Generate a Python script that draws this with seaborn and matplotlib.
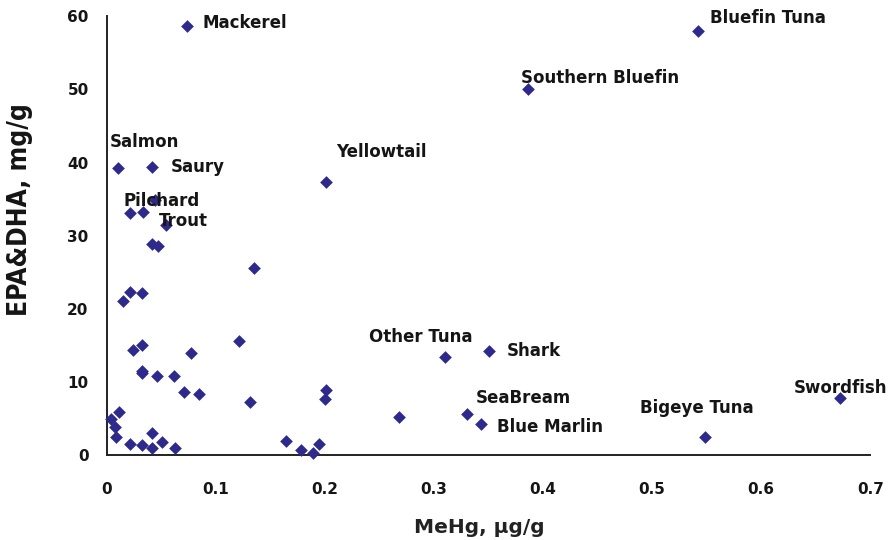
import matplotlib
matplotlib.use("Agg")
import matplotlib.pyplot as plt
import seaborn as sns
import pandas as pd

# Data: MeHg (ug/g) vs EPA&DHA (mg/g)
mehg = [0.074, 0.542, 0.386, 0.201, 0.010, 0.042, 0.021, 0.033, 0.044, 0.054,
        0.042, 0.047, 0.135, 0.015, 0.021, 0.032, 0.024, 0.032, 0.077, 0.121,
        0.032, 0.032, 0.046, 0.062, 0.071, 0.085, 0.131, 0.004, 0.011, 0.008,
        0.009, 0.021, 0.032, 0.042, 0.042, 0.051, 0.063, 0.164, 0.178, 0.189,
        0.195, 0.201, 0.200, 0.268, 0.310, 0.350, 0.330, 0.343, 0.548, 0.672]
epa_dha = [58.7, 58.0, 50.1, 37.3, 39.3, 39.4, 33.1, 33.2, 34.9, 31.5,
           28.9, 28.6, 25.6, 21.1, 22.3, 22.2, 14.4, 15.0, 14.0, 15.6,
           11.5, 11.2, 10.8, 10.8, 8.6, 8.3, 7.3, 4.9, 5.9, 3.8,
           2.5, 1.6, 1.4, 3.0, 1.0, 1.8, 1.0, 1.9, 0.7, 0.3,
           1.5, 8.9, 7.7, 5.2, 13.4, 14.2, 5.6, 4.2, 2.5, 7.8]

# Labelled species: (name, index of its point)
label_names = ["Mackerel", "Bluefin Tuna", "Southern Bluefin", "Yellowtail", "Salmon",
               "Saury", "Pilchard", "Trout", "Other Tuna", "Shark", "SeaBream",
               "Blue Marlin", "Bigeye Tuna", "Swordfish"]
label_idx = [0, 1, 2, 3, 4, 5, 6, 9, 44, 45, 46, 47, 48, 49]
# label offsets in pixels (style)
label_off = [(15, 3), (12, 13), (-7, 11), (10, 30), (-8, 26), (18, 0), (-6, 12),
             (-7, 4), (-76, 20), (18, 0), (9, 16), (16, -3), (-65, 29), (-46, 10)]

x_ticks = [0, 0.1, 0.2, 0.3, 0.4, 0.5, 0.6, 0.7]
x_tick_labels = ["0", "0.1", "0.2", "0.3", "0.4", "0.5", "0.6", "0.7"]
y_ticks = [0, 10, 20, 30, 40, 50, 60]

df = pd.DataFrame({"MeHg": mehg, "EPA_DHA": epa_dha})

sns.set_style("white")
plt.rcParams["font.family"] = ["DejaVu Sans"]
plt.rcParams["font.weight"] = "bold"

fig = plt.figure(figsize=(8.89, 5.40), dpi=100)
ax = fig.add_axes([0.120, 0.157, 0.859, 0.813])

color = "#2E2A8C"
sns.scatterplot(data=df, x="MeHg", y="EPA_DHA", marker="D", s=42, color=color,
                edgecolor=color, linewidth=0, ax=ax, clip_on=False, zorder=3)

for name, i, (dx, dy) in zip(label_names, label_idx, label_off):
    ax.annotate(name, (mehg[i], epa_dha[i]), xytext=(dx, dy), textcoords="offset pixels",
                ha="left", va="center", fontsize=12, fontweight="bold", color="#151515")

ax.set_xlim(0, 0.7)
ax.set_ylim(0, 60)
ax.set_xticks(x_ticks)
ax.set_xticklabels(x_tick_labels)
ax.set_yticks(y_ticks)

for s in ["top", "right"]:
    ax.spines[s].set_visible(False)
for s in ["left", "bottom"]:
    ax.spines[s].set_color("#222222")
    ax.spines[s].set_linewidth(1.4)

ax.tick_params(axis="both", direction="in", length=5, width=1.2, colors="#222222",
               labelsize=11, labelcolor="#151515")
ax.tick_params(axis="x", pad=19)
ax.tick_params(axis="y", pad=13)
for lab in ax.get_xticklabels() + ax.get_yticklabels():
    lab.set_fontweight("bold")

ax.set_xlabel("MeHg, µg/g", fontsize=14.5, fontweight="bold", color="#222222")
ax.xaxis.set_label_coords(0.4875, -0.143)
ax.set_ylabel("EPA&DHA, mg/g", fontsize=19, fontweight="heavy", color="#151515",
              fontstretch="condensed")
ax.yaxis.set_label_coords(-0.097, 0.56)

fig.savefig("out.png", dpi=100)
